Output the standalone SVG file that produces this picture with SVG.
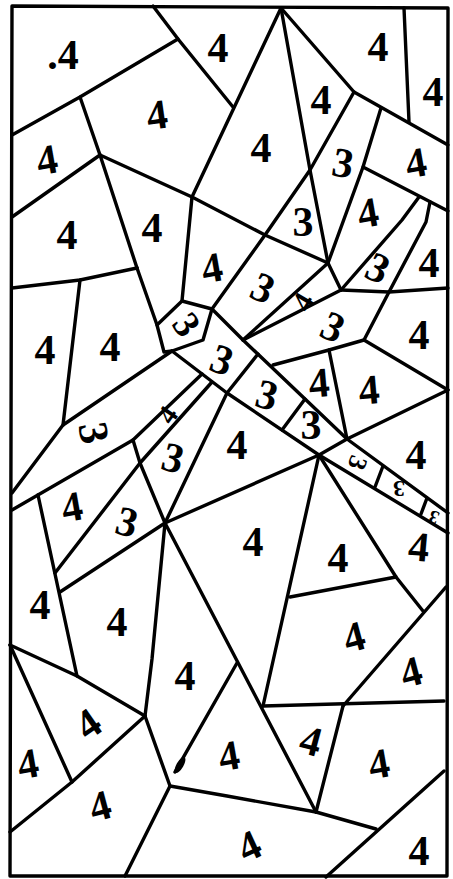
<svg xmlns="http://www.w3.org/2000/svg" width="453" height="879" viewBox="0 0 453 879">
<style>
.l{fill:none;stroke:#000;stroke-width:3.4;stroke-linejoin:round;stroke-linecap:round}
.n{font-family:"Liberation Serif",serif;font-weight:bold;font-size:42px;text-anchor:middle;fill:#000}
</style>
<rect width="453" height="879" fill="#fff"/>
<g id="lines" class="l">
<polygon points="12,6 448,8 447,876 10,876"/>
<polyline points="153,6 178,39 233,107"/>
<polyline points="12,135 80,97 178,39"/>
<polyline points="80,97 100,155"/>
<polyline points="100,155 192,197"/>
<polyline points="100,155 12,217"/>
<polyline points="100,155 137,268"/>
<polyline points="12,288 80,280 137,268"/>
<polyline points="80,280 63,425"/>
<polyline points="137,268 157,325"/>
<polygon points="157,325 182,301 212,309 203,340 172,351 164,352"/>
<polyline points="192,197 182,301"/>
<polyline points="281,8 192,197"/>
<polyline points="281,8 310,170 328,263"/>
<polyline points="281,8 354,92 448,145"/>
<polyline points="404,8 409,122"/>
<polyline points="354,92 310,170 265,235 212,309"/>
<polyline points="381,108 363,167 328,263"/>
<polyline points="363,167 448,211"/>
<polyline points="419,197 402,220 341,290"/>
<polyline points="430,202 426,222 389,292"/>
<polyline points="341,290 389,292 448,288"/>
<polyline points="328,263 341,290"/>
<polyline points="192,197 265,235 328,263"/>
<polyline points="243,340 328,263"/>
<polyline points="243,340 341,290"/>
<polyline points="389,292 364,340"/>
<polyline points="273,365 329,350 364,340"/>
<polyline points="364,340 448,390"/>
<polyline points="329,350 347,439"/>
<polyline points="448,390 347,439"/>
<polyline points="212,309 243,340 347,439"/>
<polyline points="172,351 227,393 319,455"/>
<polyline points="172,351 63,425 12,493"/>
<polyline points="227,393 258,354"/>
<polyline points="305,399 282,430"/>
<polyline points="202,374 133,440 12,510"/>
<polyline points="212,382 140,463"/>
<polyline points="133,440 140,463"/>
<polyline points="227,393 165,523"/>
<polyline points="140,463 165,523"/>
<polyline points="140,463 55,573"/>
<polyline points="165,523 319,455"/>
<polyline points="165,523 60,592"/>
<polyline points="38,495 77,676"/>
<polyline points="347,439 319,455"/>
<polyline points="347,439 448,513"/>
<polyline points="319,455 448,533"/>
<polyline points="383,466 375,487"/>
<polyline points="427,498 421,514"/>
<polyline points="319,455 263,706"/>
<polyline points="319,455 396,577 423,611"/>
<polyline points="290,597 396,577"/>
<polyline points="446,587 343,706"/>
<polyline points="263,706 444,701"/>
<polyline points="343,706 316,812"/>
<polyline points="165,523 316,812"/>
<polyline points="237,663 175,772"/>
<polyline points="165,523 152,659 145,716"/>
<polyline points="10,645 77,676 145,716"/>
<polyline points="10,645 72,782"/>
<polyline points="10,832 72,782 145,716"/>
<polyline points="145,716 170,786"/>
<polyline points="170,786 125,876"/>
<polyline points="170,786 227,796 316,812 376,829"/>
<polyline points="326,877 444,771"/>
</g>
<ellipse cx="180" cy="765" rx="9" ry="3.5" transform="rotate(-60 180 765)" fill="#000"/>
<g id="labels">
<text class="n" transform="translate(63,55)" y="14">.4</text>
<text class="n" transform="translate(218,48)" y="14">4</text>
<text class="n" transform="translate(378,47)" y="14">4</text>
<text class="n" transform="translate(433,92)" y="14">4</text>
<text class="n" transform="translate(157,115) rotate(-8)" y="14">4</text>
<text class="n" transform="translate(321,100)" y="14">4</text>
<text class="n" transform="translate(47,160) rotate(-10)" y="14">4</text>
<text class="n" transform="translate(261,148)" y="14">4</text>
<text class="n" transform="translate(343,163) rotate(10)" y="14">3</text>
<text class="n" transform="translate(416,163) rotate(-10)" y="14">4</text>
<text class="n" transform="translate(67,235)" y="14">4</text>
<text class="n" transform="translate(152,228)" y="14">4</text>
<text class="n" transform="translate(212,268) rotate(-10)" y="14">4</text>
<text class="n" transform="translate(303,222)" y="14">3</text>
<text class="n" transform="translate(368,213) rotate(-10)" y="14">4</text>
<text class="n" transform="translate(263,288) rotate(25)" y="14">3</text>
<text class="n" transform="translate(378,268) rotate(25)" y="14">3</text>
<text class="n" transform="translate(429,263)" y="14">4</text>
<text class="n" transform="translate(45,350)" y="14">4</text>
<text class="n" transform="translate(110,347)" y="14">4</text>
<text class="n" style="font-size:38px" transform="translate(186,325) rotate(55)" y="12">3</text>
<text class="n" style="font-size:30px" transform="translate(303,302) rotate(-60)" y="10">4</text>
<text class="n" transform="translate(333,327) rotate(25)" y="14">3</text>
<text class="n" transform="translate(419,335)" y="14">4</text>
<text class="n" transform="translate(222,360) rotate(20)" y="14">3</text>
<text class="n" transform="translate(267,395) rotate(15)" y="14">3</text>
<text class="n" transform="translate(319,383) rotate(-5)" y="14">4</text>
<text class="n" transform="translate(369,390) rotate(-5)" y="14">4</text>
<text class="n" transform="translate(311,425)" y="14">3</text>
<text class="n" transform="translate(93,433) rotate(80)" y="13">3</text>
<text class="n" style="font-size:28px" transform="translate(168,415) rotate(-55)" y="9">4</text>
<text class="n" transform="translate(173,458) rotate(15)" y="14">3</text>
<text class="n" transform="translate(237,445)" y="14">4</text>
<text class="n" transform="translate(416,455)" y="14">4</text>
<text class="n" style="font-size:26px" transform="translate(358,463) rotate(110)" y="9">3</text>
<text class="n" style="font-size:24px" transform="translate(399,489) rotate(180)" y="8">3</text>
<text class="n" style="font-size:19px" transform="translate(434,517) rotate(200)" y="6">3</text>
<text class="n" transform="translate(72,507) rotate(-10)" y="14">4</text>
<text class="n" transform="translate(127,522) rotate(15)" y="14">3</text>
<text class="n" transform="translate(253,542)" y="14">4</text>
<text class="n" transform="translate(338,558)" y="14">4</text>
<text class="n" transform="translate(419,547) rotate(5)" y="14">4</text>
<text class="n" transform="translate(40,605)" y="14">4</text>
<text class="n" transform="translate(117,622)" y="14">4</text>
<text class="n" transform="translate(354,637) rotate(-15)" y="14">4</text>
<text class="n" transform="translate(185,676)" y="14">4</text>
<text class="n" transform="translate(411,672) rotate(-15)" y="14">4</text>
<text class="n" transform="translate(88,724) rotate(-35)" y="14">4</text>
<text class="n" transform="translate(311,741) rotate(15)" y="14">4</text>
<text class="n" transform="translate(229,756) rotate(-10)" y="14">4</text>
<text class="n" transform="translate(379,764) rotate(-10)" y="14">4</text>
<text class="n" transform="translate(28,764) rotate(-10)" y="14">4</text>
<text class="n" transform="translate(100,806) rotate(-15)" y="14">4</text>
<text class="n" transform="translate(249,846) rotate(-25)" y="14">4</text>
<text class="n" transform="translate(419,851)" y="14">4</text>
</g>
</svg>
